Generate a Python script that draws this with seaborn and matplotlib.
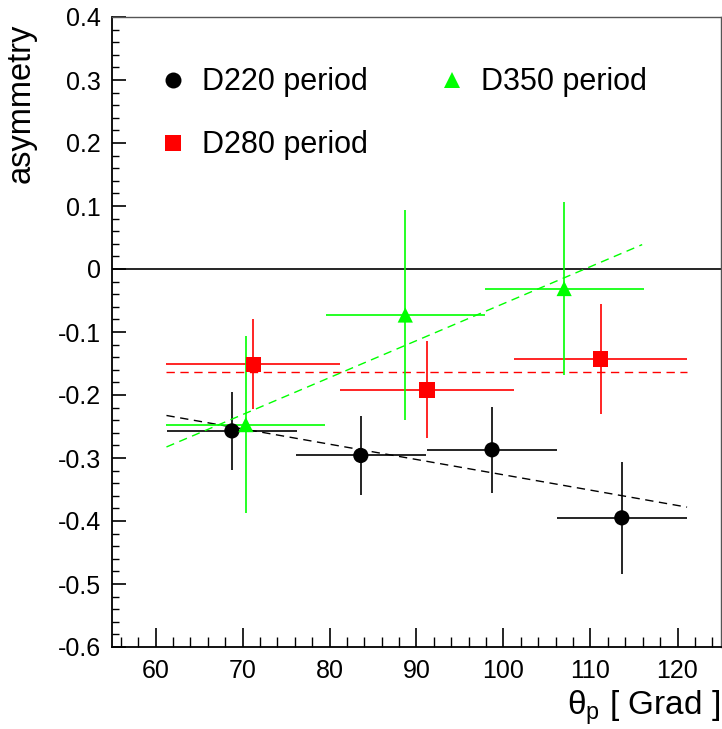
import matplotlib
matplotlib.use("Agg")
import matplotlib.pyplot as plt
import seaborn as sns
import numpy as np
import pandas as pd
from matplotlib.ticker import MultipleLocator

# ---------------- data ----------------
d220_x = [68.78, 83.6, 98.68, 113.6]
d220_y = [-0.257, -0.296, -0.287, -0.395]
d220_xerr = [7.47, 7.47, 7.47, 7.47]
d220_yerr = [0.062, 0.063, 0.068, 0.089]

d280_x = [71.23, 91.2, 111.16]
d280_y = [-0.151, -0.192, -0.143]
d280_xerr = [9.97, 9.97, 9.97]
d280_yerr = [0.071, 0.077, 0.087]

d350_x = [70.38, 88.71, 106.97]
d350_y = [-0.247, -0.073, -0.031]
d350_xerr = [9.15, 9.15, 9.15]
d350_yerr = [0.140, 0.167, 0.137]

fit220_x = [61.26, 121.1]
fit220_y = [-0.2325, -0.378]
fit280_x = [61.26, 121.1]
fit280_y = [-0.163, -0.163]
fit350_x = [61.26, 115.94]
fit350_y = [-0.2825, 0.0387]

labels = ["D220 period", "D280 period", "D350 period"]
colors = ["#000000", "#ff0000", "#00ff00"]
markers = ["o", "s", "^"]

xticks = [60, 70, 80, 90, 100, 110, 120]
yticks = [0.4, 0.3, 0.2, 0.1, 0.0, -0.1, -0.2, -0.3, -0.4, -0.5, -0.6]
yticklabels = ["0.4", "0.3", "0.2", "0.1", "0", "-0.1", "-0.2", "-0.3", "-0.4", "-0.5", "-0.6"]

# ---------------- style ----------------
sns.set_theme(style="ticks")
plt.rcParams["font.family"] = ["Liberation Sans", "DejaVu Sans"]
plt.rcParams["mathtext.fontset"] = "custom"
plt.rcParams["mathtext.rm"] = "Liberation Sans"
plt.rcParams["mathtext.it"] = "Liberation Sans:italic"
plt.rcParams["axes.unicode_minus"] = False
for k in ["text.color", "axes.labelcolor", "xtick.color", "ytick.color", "xtick.labelcolor", "ytick.labelcolor"]:
    plt.rcParams[k] = "black"

fig = plt.figure(figsize=(7.22, 7.29), dpi=100)
ax = fig.add_axes([112 / 722, 1 - 647 / 729, 609 / 722, 630 / 729])

ax.axhline(0, color="black", lw=1.2, zorder=1)

sets = [
    (d220_x, d220_y, d220_xerr, d220_yerr, fit220_x, fit220_y),
    (d280_x, d280_y, d280_xerr, d280_yerr, fit280_x, fit280_y),
    (d350_x, d350_y, d350_xerr, d350_yerr, fit350_x, fit350_y),
]

frames = []
for (x, y, xe, ye, fx, fy), lab, col in zip(sets, labels, colors):
    ax.errorbar(x, y, xerr=xe, yerr=ye, fmt="none", ecolor=col,
                elinewidth=1.2, capsize=0, zorder=2)
    fdf = pd.DataFrame({"x": fx, "y": fy})
    sns.lineplot(data=fdf, x="x", y="y", ax=ax, color=col, lw=1.0,
                 linestyle=(0, (6, 4)), zorder=2, legend=False)
    frames.append(pd.DataFrame({"x": x, "y": y, "period": lab}))

df = pd.concat(frames, ignore_index=True)
sns.scatterplot(data=df, x="x", y="y", hue="period", style="period",
                palette=dict(zip(labels, colors)),
                markers=dict(zip(labels, markers)),
                s=120, linewidth=0, ax=ax, zorder=3)

handles, labs = ax.get_legend_handles_labels()
ax.legend(handles, labs, ncol=2, loc="upper left",
          bbox_to_anchor=(0.075, 0.92), frameon=False, fontsize=22,
          handlelength=1.0, handletextpad=0.45, columnspacing=2.25,
          labelspacing=1.08, markerscale=1.05, borderpad=0, borderaxespad=0)

ax.set_xlim(55, 125)
ax.set_ylim(-0.6, 0.4)
ax.set_xticks(xticks)
ax.set_xticklabels([str(t) for t in xticks])
ax.set_yticks(yticks)
ax.set_yticklabels(yticklabels)
ax.xaxis.set_minor_locator(MultipleLocator(2))
ax.yaxis.set_minor_locator(MultipleLocator(0.02))

ax.tick_params(axis="x", which="major", direction="in", length=13.7, width=1.2,
               labelsize=18, pad=9, top=False, color="black")
ax.tick_params(axis="x", which="minor", direction="in", length=7.2, width=1.0,
               top=False, color="black")
ax.tick_params(axis="y", which="major", direction="in", length=10, width=1.2,
               labelsize=18, pad=8, right=False, color="black")
ax.tick_params(axis="y", which="minor", direction="in", length=5, width=1.0,
               right=False, color="black")

for side in ["left", "bottom"]:
    ax.spines[side].set_color("black")
    ax.spines[side].set_linewidth(1.3)
for side in ["top", "right"]:
    ax.spines[side].set_color("#555555")
    ax.spines[side].set_linewidth(1.0)
    ax.spines[side].set_visible(True)

ax.set_xlabel("θ$_{\\mathrm{p}}$ [ Grad ]", fontsize=24, loc="right")
ax.set_ylabel("asymmetry", fontsize=23.5, loc="top")
ax.xaxis.set_label_coords(0.998, -0.066)
ax.yaxis.set_label_coords(-0.124, 0.99)
ax.xaxis.label.set_va("top")

fig.savefig("out.png", dpi=100)
